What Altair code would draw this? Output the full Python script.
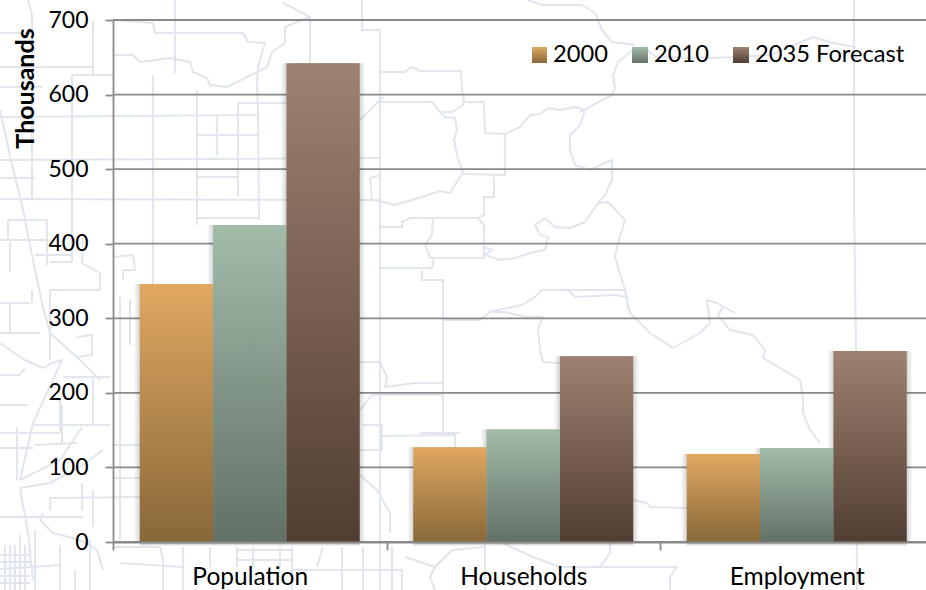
import altair as alt
import pandas as pd

# Chart values (thousands)
categories = ["Population", "Households", "Employment"]
series = ["2000", "2010", "2035 Forecast"]
values_2000 = [346, 127, 118]
values_2010 = [425, 151, 126]
values_2035 = [642, 249, 256]
y_ticks = [0, 100, 200, 300, 400, 500, 600, 700]

top_colors = ["#e0a862", "#a2bcaa", "#9e8171"]
bottom_colors = ["#886838", "#627066", "#513e32"]

FONT = "Lato"
AXIS_GREY = "#8a8a8a"
MAP_GREY = "#e1e6ee"

# Regional road and boundary network drawn behind the plot, in sheet units
map_paths = [
    # right half: river and county outlines
    [(362, 0), (362, 30), (380, 30), (380, 362), (380, 590)],
    [(380, 72), (405, 72), (412, 67), (420, 71), (461, 71), (462, 90), (464, 100), (463, 105), (452, 112), (443, 112)],
    [(380, 102), (432, 102), (441, 113), (445, 117), (455, 118), (457, 130), (454, 140), (457, 155), (463, 172), (455, 185), (450, 193), (440, 191), (425, 196), (412, 200), (395, 205), (383, 202), (372, 200), (370, 178), (380, 175)],
    [(462, 102), (484, 102), (485, 133), (505, 134), (505, 175), (463, 174)],
    [(505, 134), (520, 127), (530, 115), (540, 114), (548, 108), (560, 110), (575, 107), (585, 110), (580, 125), (570, 135), (570, 150), (575, 165), (590, 170), (600, 165), (612, 160), (612, 180), (605, 195), (598, 203)],
    [(580, 112), (612, 95), (615, 88), (613, 75), (618, 62), (633, 50), (643, 47), (656, 57), (709, 58), (736, 57), (770, 55), (799, 43), (813, 37), (833, 43), (856, 47)],
    [(528, 0), (542, 5), (582, 5), (595, 13), (602, 30), (612, 42), (635, 45)],
    [(854, 0), (854, 200), (856, 350), (857, 590)],
    [(598, 203), (608, 202), (625, 220), (618, 243), (615, 257), (625, 290), (627, 300), (630, 313), (650, 333), (673, 348), (700, 333), (710, 323), (707, 300), (717, 303), (735, 313)],
    [(723, 307), (718, 315), (730, 330), (753, 335), (765, 350), (763, 358), (780, 368), (800, 380), (803, 397), (803, 413), (810, 430), (820, 443)],
    [(598, 203), (585, 222), (570, 228), (555, 227), (545, 218), (535, 225), (540, 235), (548, 237), (545, 250), (530, 253), (515, 258), (500, 260), (485, 255)],
    [(380, 227), (402, 227), (402, 222), (410, 218), (478, 218), (484, 225), (484, 258), (430, 258), (425, 245), (432, 235), (433, 218)],
    [(380, 268), (432, 268), (434, 258)],
    [(484, 247), (492, 250), (484, 255)],
    [(422, 270), (422, 280), (443, 280), (443, 383), (443, 436)],
    [(494, 177), (494, 197), (484, 197), (484, 215), (478, 218)],
    [(443, 320), (480, 320), (490, 312), (505, 312), (527, 317), (543, 317), (538, 330), (540, 350), (543, 362), (560, 363)],
    [(625, 290), (568, 290), (542, 290), (535, 297), (522, 305), (488, 312)],
    [(568, 290), (575, 297), (615, 295), (627, 297), (628, 310)],
    [(633, 500), (647, 503), (650, 507), (687, 508)],
    [(485, 543), (485, 590)],
    [(503, 543), (533, 557), (560, 567), (600, 567), (610, 553), (610, 543)],
    [(600, 567), (677, 567), (670, 577), (670, 590)],
    [(360, 362), (380, 362), (387, 377), (385, 387), (415, 383), (443, 383)],
    [(360, 410), (372, 395), (443, 395)],
    [(363, 425), (382, 425), (382, 450), (360, 450)],
    [(380, 436), (455, 435), (455, 470)],
    [(360, 475), (377, 490), (390, 513), (390, 533)],
    [(392, 547), (392, 590)],
    [(362, 570), (402, 570), (402, 590)],
    [(405, 557), (435, 567), (452, 550), (485, 547)],
    [(435, 567), (430, 577), (435, 590)],
    [(420, 433), (460, 433)],
    # upper left: township grid and river
    [(113, 20), (153, 23), (155, 33), (243, 33), (248, 42), (265, 43), (258, 67), (257, 87), (258, 110), (259, 220)],
    [(175, 0), (175, 73)],
    [(113, 55), (133, 55), (140, 62), (170, 58), (190, 62), (193, 72), (207, 78), (210, 85), (227, 87), (257, 72)],
    [(285, 27), (285, 43), (272, 52), (267, 67), (257, 72)],
    [(285, 27), (310, 17), (293, 8), (283, 3)],
    [(310, 17), (310, 63)],
    [(153, 75), (153, 300)],
    [(197, 90), (197, 225)],
    [(217, 115), (217, 155)],
    [(238, 103), (238, 197)],
    [(238, 103), (287, 103)],
    [(0, 117), (258, 115)],
    [(197, 135), (258, 135)],
    [(0, 160), (380, 158)],
    [(197, 177), (238, 177)],
    [(0, 199), (380, 200)],
    [(197, 218), (258, 218)],
    [(360, 120), (383, 97)],
    [(93, 20), (93, 75)],
    [(72, 75), (72, 262)],
    [(28, 0), (32, 15), (32, 200)],
    [(0, 33), (32, 33)],
    [(0, 67), (93, 67)],
    [(93, 75), (113, 75)],
    [(72, 75), (93, 75)],
    [(0, 87), (42, 87)],
    [(0, 178), (35, 178)],
    [(0, 110), (12, 165), (22, 205), (33, 260), (42, 303), (50, 333), (80, 360), (100, 380)],
    [(8, 220), (47, 220), (47, 265)],
    [(8, 220), (8, 240)],
    [(10, 242), (10, 272)],
    [(0, 240), (47, 240)],
    [(35, 255), (72, 255)],
    [(50, 262), (72, 262)],
    [(83, 233), (82, 263), (100, 273), (100, 290)],
    [(113, 257), (133, 255), (135, 270), (123, 270), (123, 280)],
    # lower left: dense street network
    [(0, 303), (30, 303)],
    [(10, 303), (10, 333)],
    [(0, 333), (40, 333)],
    [(32, 290), (32, 303)],
    [(50, 290), (50, 360)],
    [(50, 290), (100, 290)],
    [(77, 337), (92, 335), (92, 355), (78, 357)],
    [(0, 343), (17, 355), (25, 360), (43, 368), (52, 363), (62, 360), (33, 423), (20, 480)],
    [(0, 375), (20, 375), (25, 368)],
    [(0, 405), (28, 405)],
    [(33, 425), (110, 425)],
    [(62, 405), (62, 443)],
    [(93, 377), (93, 425)],
    [(63, 377), (110, 377)],
    [(35, 445), (77, 443)],
    [(82, 427), (60, 460), (20, 480)],
    [(103, 450), (80, 467), (50, 483), (20, 488)],
    [(0, 448), (33, 448)],
    [(17, 427), (17, 480)],
    [(20, 488), (28, 533), (33, 580)],
    [(50, 498), (140, 497)],
    [(50, 498), (50, 510)],
    [(82, 483), (82, 510)],
    [(93, 490), (93, 527)],
    [(0, 517), (83, 517)],
    [(43, 513), (40, 520), (53, 533), (80, 540), (97, 550), (103, 570)],
    [(0, 433), (60, 433)],
    [(60, 400), (60, 433)],
    [(5, 545), (5, 590)],
    [(10, 545), (10, 590)],
    [(15, 545), (15, 590)],
    [(20, 535), (20, 590)],
    [(25, 545), (25, 590)],
    [(0, 555), (30, 555)],
    [(0, 562), (30, 562)],
    [(0, 569), (60, 565)],
    [(0, 576), (30, 576)],
    [(0, 583), (30, 583)],
    [(35, 530), (35, 590)],
    [(75, 570), (75, 590)],
    [(113, 445), (140, 445)],
    [(113, 478), (140, 478)],
    [(120, 297), (120, 540)],
    [(130, 300), (130, 345)],
    [(113, 547), (143, 547), (160, 547), (163, 560), (163, 590)],
    [(183, 547), (183, 590)],
    [(210, 547), (210, 567)],
    [(237, 550), (293, 550)],
    [(237, 560), (292, 560)],
    [(293, 570), (403, 570)],
    [(237, 547), (237, 567)],
    [(253, 547), (253, 567)],
    [(280, 547), (280, 567)],
    [(292, 547), (292, 590)],
    [(323, 547), (317, 567)],
    [(342, 547), (342, 590)],
    [(363, 547), (363, 590)],
    [(120, 563), (183, 567)],
    [(60, 545), (60, 590)],
    [(90, 540), (90, 590)],
]

map_rows = [
    {"path": i, "step": j, "mx": px, "my": py}
    for i, path in enumerate(map_paths)
    for j, (px, py) in enumerate(path)
]
map_df = pd.DataFrame(map_rows)

rows = []
for s, vals in zip(series, [values_2000, values_2010, values_2035]):
    for c, v in zip(categories, vals):
        rows.append({"category": c, "series": s, "value": v})
df = pd.DataFrame(rows)


def vertical_fill(i):
    return alt.Gradient(
        gradient="linear", x1=0, y1=0, x2=0, y2=1,
        stops=[alt.GradientStop(offset=0, color=top_colors[i]),
               alt.GradientStop(offset=1, color=bottom_colors[i])],
    )


def side_shadow(reverse):
    dark = "rgba(0,0,0,0.20)"
    clear = "rgba(0,0,0,0)"
    stops = [alt.GradientStop(offset=0, color=dark),
             alt.GradientStop(offset=0.9, color=dark),
             alt.GradientStop(offset=1, color=clear)]
    x1, x2 = (1, 0) if reverse else (0, 1)
    return alt.Gradient(gradient="linear", x1=x1, y1=0, x2=x2, y2=0, stops=stops)


BAND_PAD = {"paddingInner": 0.1956, "paddingOuter": 0.0978}
x_scale = alt.Scale(domain=categories, range=[0, 820.5], **BAND_PAD)
# Same bands nudged sideways, for the soft shadows
x_scale_right = alt.Scale(domain=categories, range=[6, 826.5], **BAND_PAD)
x_scale_left = alt.Scale(domain=categories, range=[-6, 814.5], **BAND_PAD)
# No padding here, so the axis ticks fall between the categories
x_scale_axis = alt.Scale(domain=categories, range=[0, 820.5], paddingInner=0, paddingOuter=0)
y_scale = alt.Scale(domain=[0, 700], nice=False)
y_scale_low = alt.Scale(domain=[0, 700], range=[526, 4], nice=False)
offset_scale = alt.Scale(domain=series, paddingInner=0, paddingOuter=0)

x_plain = alt.X("category:N", scale=x_scale, axis=None)
y_plain = alt.Y("value:Q", scale=y_scale, axis=None)
x_off = alt.XOffset("series:N", scale=offset_scale)

# Pale map behind everything
map_layer = alt.Chart(map_df).mark_line(
    color=MAP_GREY, strokeWidth=2, strokeJoin="round", clip=False
).encode(
    x=alt.X("mx:Q", scale=alt.Scale(domain=[113, 926], nice=False, zero=False), axis=None),
    y=alt.Y("my:Q", scale=alt.Scale(domain=[542, 20], nice=False, zero=False), axis=None),
    detail="path:N",
    order="step:Q",
)

# Horizontal gridlines
grid_df = pd.DataFrame({"tick": y_ticks})
grid_layer = alt.Chart(grid_df).mark_rule(color=AXIS_GREY, strokeWidth=1.8).encode(
    y=alt.Y("tick:Q", scale=y_scale, axis=None)
)

# Soft shadows around the columns
shadow_right = alt.Chart(df).mark_bar(color=side_shadow(False)).encode(
    x=alt.X("category:N", scale=x_scale_right, axis=None), xOffset=x_off, y=y_plain
)
shadow_left = alt.Chart(df).mark_bar(color=side_shadow(True)).encode(
    x=alt.X("category:N", scale=x_scale_left, axis=None), xOffset=x_off, y=y_plain
)
shadow_below = alt.Chart(df).transform_calculate(low="0", high="5.4").mark_bar(
    color=alt.Gradient(
        gradient="linear", x1=0, y1=0, x2=0, y2=1,
        stops=[alt.GradientStop(offset=0, color="rgba(0,0,0,0.40)"),
               alt.GradientStop(offset=1, color="rgba(0,0,0,0)")],
    )
).encode(
    x=x_plain, xOffset=x_off,
    y=alt.Y("high:Q", scale=y_scale_low, axis=None),
    y2="low:Q",
)

# One gradient-filled column layer per series
bar_layers = [
    alt.Chart(df).transform_filter(alt.datum.series == s).mark_bar(
        color=vertical_fill(i)
    ).encode(x=x_plain, xOffset=x_off, y=y_plain)
    for i, s in enumerate(series)
]

# Layer that only carries the axes, on top of the map
axes_layer = alt.Chart(df).mark_bar(opacity=0).encode(
    x=alt.X(
        "category:N", scale=x_scale_axis, title=None,
        axis=alt.Axis(
            labelAngle=0, labelFont=FONT, labelFontSize=24.5, labelColor="black",
            labelPadding=15, tickSize=8, tickColor=AXIS_GREY, tickWidth=1.8,
            domainColor=AXIS_GREY, domainWidth=1.8, tickBand="extent",
            grid=False, zindex=1,
        ),
    ),
    y=alt.Y(
        "value:Q", scale=y_scale, title="Thousands",
        axis=alt.Axis(
            values=y_ticks, labelFont=FONT, labelFontSize=23, labelColor="black",
            labelPadding=17, tickSize=8, tickColor=AXIS_GREY, tickWidth=1.8,
            domainColor=AXIS_GREY, domainWidth=1.8, grid=False, zindex=1,
            titleFont=FONT, titleFontSize=25, titleFontWeight="bold", titleColor="black",
            titleAngle=270, titleAlign="center", titleBaseline="alphabetic",
            titleX=-80, titleY=68,
        ),
    ),
)

# Legend entries along the top right of the plot
legend_layers = []
swatch_left = [419, 519, 620]
swatch_size = [15, 16, 16]
label_left = [440, 541, 642]
legend_src = pd.DataFrame({"series": series})
for i, s in enumerate(series):
    one = legend_src[legend_src["series"] == s]
    legend_layers.append(
        alt.Chart(one).mark_rect(color=vertical_fill(i)).encode(
            x=alt.value(swatch_left[i]), x2=alt.value(swatch_left[i] + swatch_size[i]),
            y=alt.value(27), y2=alt.value(43),
        )
    )
    legend_layers.append(
        alt.Chart(one).mark_text(
            font=FONT, fontSize=23.7, color="black", align="left", baseline="alphabetic"
        ).encode(x=alt.value(label_left[i]), y=alt.value(42), text="series:N")
    )

chart = alt.layer(
    map_layer, grid_layer, shadow_left, shadow_right, shadow_below, axes_layer,
    *bar_layers, *legend_layers
).resolve_scale(
    x="independent", y="independent"
).properties(
    width=813,
    height=522,
    autosize=alt.AutoSizeParams(type="none"),
    padding={"left": 113, "top": 20, "right": 0, "bottom": 48},
    background="white",
).configure_view(stroke=None)

chart.save("out.html", embed_options={"renderer": "svg", "actions": False})
